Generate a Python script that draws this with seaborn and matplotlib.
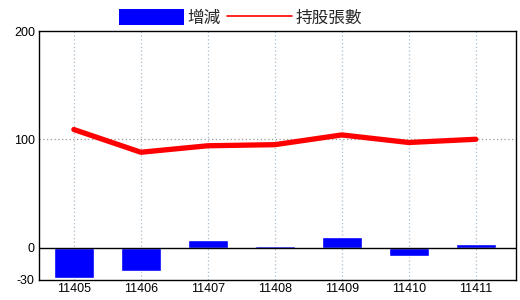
import matplotlib
matplotlib.use("Agg")
import matplotlib.pyplot as plt
import seaborn as sns
import numpy as np
import pandas as pd
from matplotlib.patches import Patch
from matplotlib.lines import Line2D

periods = ["11405", "11406", "11407", "11408", "11409", "11410", "11411"]
change = [-28, -22, 7, 1, 10, -8, 3]
holding = [109, 88, 94, 95, 104, 97, 100]
yticks = [-30, 0, 100, 200]

df = pd.DataFrame({"period": periods, "change": change, "holding": holding})

sns.set_theme(style="white")
plt.rcParams['font.family'] = ['Liberation Sans', 'Noto Sans CJK TC', 'DejaVu Sans']

fig = plt.figure(figsize=(5.2, 3.0), dpi=100)
ax = fig.add_axes([39/520, 20/300, (516-39)/520, (280-31)/300])

sns.barplot(data=df, x="period", y="change", color="#0000ff", saturation=1,
            width=0.6, ax=ax, zorder=3)
sns.lineplot(x=np.arange(len(periods)), y=df["holding"], color="#ff0000",
             linewidth=3.8, ax=ax, zorder=4)

ax.set_ylim(-30, 200)
ax.set_xlim(-0.52, 6.6)
ax.set_yticks(yticks)
ax.set_yticklabels([str(v) for v in yticks])
ax.set_xticks(range(len(periods)))
ax.set_xticklabels(periods)
ax.set_xlabel("")
ax.set_ylabel("")
ax.tick_params(axis="both", length=0, labelsize=9, colors="black")
ax.tick_params(axis="y", pad=3)
ax.tick_params(axis="x", pad=2)

for x in range(len(periods)):
    ax.axvline(x, color="#a8bccc", linestyle=(0, (1, 2)), linewidth=0.9, zorder=1)
ax.axhline(100, color="#999999", linestyle=(0, (1, 2)), linewidth=0.9, zorder=1)
ax.axhline(0, color="black", linewidth=1.0, zorder=5)

for s in ax.spines.values():
    s.set_visible(True)
    s.set_color("black")
    s.set_linewidth(1.0)

handles = [Patch(facecolor="#0000ff", edgecolor="none"),
           Line2D([0], [0], color="#ff0000", linewidth=1.2)]
fig.legend(handles, ["增減", "持股張數"], loc="center", bbox_to_anchor=(0.462, 0.94),
           ncol=2, frameon=False, handlelength=3.9, handleheight=1.1,
           handletextpad=0.2, columnspacing=0.4,
           prop={"family": ["Noto Sans CJK TC", "DejaVu Sans"], "size": 12})

fig.savefig("out.png", dpi=100)
